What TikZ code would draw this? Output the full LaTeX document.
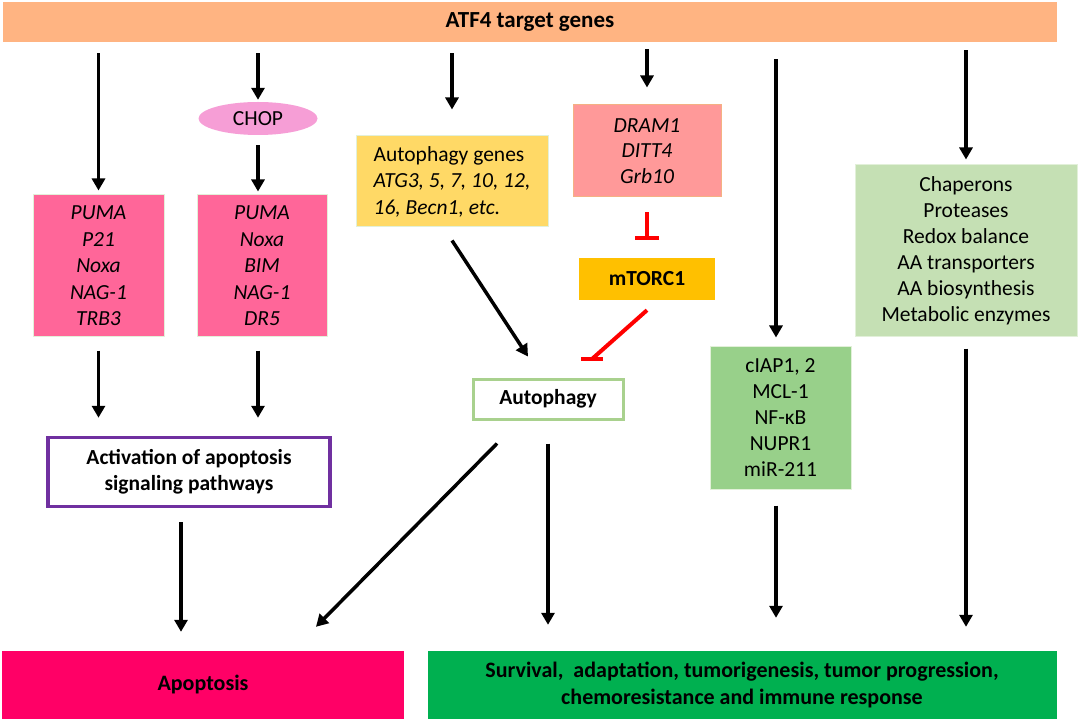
\documentclass[tikz,border=0pt]{standalone}
\usepackage{fontspec}
\setmainfont{Carlito}
\usetikzlibrary{arrows.meta,calc,shapes.geometric}
\definecolor{topc}{RGB}{255,180,130}
\definecolor{pinkc}{RGB}{255,102,153}
\definecolor{pinkb}{RGB}{226,240,217}
\definecolor{chopc}{RGB}{246,158,214}
\definecolor{actb}{RGB}{112,48,160}
\definecolor{agc}{RGB}{255,217,102}
\definecolor{dramc}{RGB}{255,153,153}
\definecolor{dramb}{RGB}{244,177,131}
\definecolor{mtc}{RGB}{255,192,0}
\definecolor{autb}{RGB}{169,209,142}
\definecolor{ciac}{RGB}{152,208,138}
\definecolor{chac}{RGB}{197,224,180}
\definecolor{apoc}{RGB}{255,0,102}
\definecolor{surc}{RGB}{0,176,80}
\definecolor{inhc}{RGB}{255,0,0}
\tikzset{
  box/.style={rectangle, inner sep=0pt, align=center, font=\fontsize{21.5}{26}\selectfont},
  arr/.style={line width=3.5pt, -{Triangle[width=13pt,length=12pt]}},
  inh/.style={line width=4pt, inhc},
}
\begin{document}
\begin{tikzpicture}[x=1pt,y=-1pt]
\useasboundingbox (0,0) rectangle (1079,719);
\fill[white] (0,0) rectangle (1079,719);

\node[box, fill=topc, minimum width=1054pt, minimum height=40pt, font=\bfseries\fontsize{23}{26}\selectfont] (atf) at (530,22) {ATF4 target genes};

\node[box, fill=pinkc, draw=pinkb, line width=1pt, minimum width=131pt, minimum height=142pt, font=\itshape\fontsize{21.5}{26.5}\selectfont] (p1) at (98.5,266) {PUMA\\P21\\Noxa\\NAG-1\\TRB3};
\node[box, fill=pinkc, draw=pinkb, line width=1pt, minimum width=130pt, minimum height=142pt, font=\itshape\fontsize{21.5}{26.5}\selectfont] (p2) at (262,266) {PUMA\\Noxa\\BIM\\NAG-1\\DR5};
\node[box, ellipse, fill=chopc, minimum width=119pt, minimum height=33pt] (chop) at (258,118.5) {CHOP};

\node[box, fill=white, draw=actb, line width=3.5pt, minimum width=282pt, minimum height=69pt, font=\bfseries\fontsize{21.5}{26}\selectfont] (act) at (189,472) {Activation of apoptosis\\signaling pathways};

\node[box, fill=agc, draw=pinkb, line width=1pt, minimum width=192pt, minimum height=91pt, align=left, font=\fontsize{21.5}{26.5}\selectfont] (ag) at (452,181.5) {Autophagy genes\\{\itshape ATG3, 5, 7, 10, 12,}\\{\itshape 16, Becn1, etc.}};

\node[box, fill=dramc, draw=dramb, line width=1pt, minimum width=148pt, minimum height=92pt, font=\itshape\fontsize{21.5}{25.5}\selectfont] (dram) at (647,151) {DRAM1\\DITT4\\Grb10};

\node[box, fill=mtc, minimum width=136pt, minimum height=42pt, font=\bfseries\fontsize{21.5}{26}\selectfont] (mt) at (647,279) {mTORC1};

\node[box, fill=white, draw=autb, line width=3pt, minimum width=150pt, minimum height=40pt, font=\bfseries\fontsize{21.5}{26}\selectfont] (aut) at (548,399) {Autophagy};

\node[box, fill=ciac, draw=pinkb, line width=1pt, minimum width=141pt, minimum height=143pt] (cia) at (780.5,417.5) {cIAP1, 2\\MCL-1\\NF-κB\\NUPR1\\miR-211};

\node[box, fill=chac, draw=pinkb, line width=1pt, minimum width=222pt, minimum height=172pt] (cha) at (966,251) {Chaperons\\Proteases\\Redox balance\\AA transporters\\AA biosynthesis\\Metabolic enzymes};

\node[box, fill=apoc, minimum width=402pt, minimum height=68pt, font=\bfseries\fontsize{22}{26}\selectfont] (apo) at (203,685) {Apoptosis};
\node[box, fill=surc, minimum width=629pt, minimum height=68pt, font=\bfseries\fontsize{22}{27}\selectfont] (sur) at (742,685) {Survival,~ adaptation, tumorigenesis, tumor progression,\\chemoresistance and immune response};

\coordinate (inhpt) at (592,359);

% arrows
\draw[arr, shorten <=11pt, shorten >=4pt] (atf.south -| p1.north) -- (p1.north);
\draw[arr, shorten <=11pt, shorten >=2pt] (atf.south -| chop.north) -- (chop.north);
\draw[arr, shorten <=10pt, shorten >=3pt] (chop.south) -- (chop.south |- p2.north);
\draw[arr, shorten <=13pt, shorten >=18pt] (p1.south) -- (p1.south |- act.north);
\draw[arr, shorten <=13pt, shorten >=18pt] (p2.south -| chop.south) -- (act.north -| chop.south);
\draw[arr, shorten <=14pt, shorten >=19pt] ([xshift=-8pt]act.south) -- ([xshift=-8pt]act.south |- apo.north);

\draw[arr, shorten <=11pt, shorten >=26pt] (atf.south -| ag.north) -- (ag.north);
\draw[arr] ([yshift=-13pt]ag.south) -- ([xshift=-20pt,yshift=21pt]aut.north);

\draw[arr, shorten <=7pt, shorten >=17pt] (atf.south -| dram.north) -- (dram.north);
\draw[inh, -{Bar[width=24pt]}, shorten <=15pt, shorten >=18pt] (dram.south) -- (mt.north);
\draw[inh] ([yshift=-10pt]mt.south) -- (inhpt);
\draw[inh] ([xshift=-11pt]inhpt) -- ([xshift=11pt]inhpt);

\draw[arr, shorten <=17pt, shorten >=8pt] ($(atf.south -| cia.north)+(-4.5,0)$) -- ($(cia.north)+(-4.5,0)$);
\draw[arr, shorten <=16pt, shorten >=33pt] ($(cia.south)+(-4.5,0)$) -- ($(cia.south |- sur.north)+(-4.5,0)$);

\draw[arr, shorten <=8pt, shorten >=5pt] (atf.south -| cha.north) -- (cha.north);
\draw[arr, shorten <=11pt, shorten >=24pt] (cha.south) -- (cha.south |- sur.north);

\draw[arr, shorten <=23pt, shorten >=26pt] (aut.south) -- (aut.south |- sur.north);
\draw[arr] ($(aut.south)+(-51,23)$) -- ($(apo.north)+(113,-24)$);
\end{tikzpicture}
\end{document}
